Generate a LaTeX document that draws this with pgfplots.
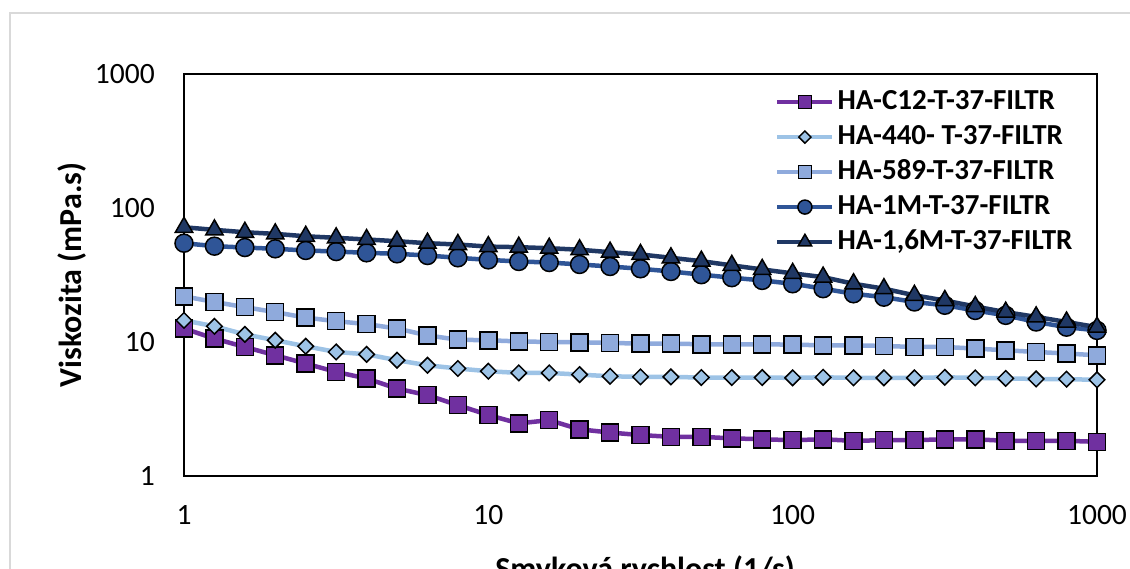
\documentclass[border=0pt]{standalone}
\usepackage{fontspec}
\setmainfont{Carlito}
\usepackage{pgfplots}
\pgfplotsset{compat=1.18}
\definecolor{cP}{HTML}{7030A0}
\definecolor{cL}{HTML}{9DC3E6}
\definecolor{cM}{HTML}{8FAADC}
\definecolor{cB}{HTML}{2F5597}
\definecolor{cN}{HTML}{203864}
\newcommand{\fs}{\fontsize{29.5}{35}\selectfont}
\newcommand{\fb}{\fontsize{32}{38}\selectfont\bfseries}
\newcommand{\fl}{\fontsize{29}{35}\selectfont\bfseries}
\pgfplotstableread{
x c12 h440 h589 m1 m16
1.000 12.6 14.5 21.9 54.6 71.8
1.259 10.6 13.1 19.9 51.9 68.7
1.585 9.18 11.4 18.2 50.7 65.9
1.995 7.96 10.3 16.7 49.6 64.1
2.512 6.90 9.29 15.2 48.2 61.5
3.162 5.98 8.43 14.3 47.3 59.9
3.981 5.34 8.09 13.6 46.3 58.2
5.012 4.49 7.31 12.6 45.5 56.5
6.310 4.01 6.70 11.2 44.2 54.6
7.943 3.38 6.34 10.4 42.5 53.4
10.00 2.85 6.05 10.3 41.0 51.5
12.59 2.47 5.88 10.1 39.9 51.0
15.85 2.61 5.88 10.0 39.2 50.1
19.95 2.23 5.71 9.95 37.9 48.8
25.12 2.11 5.55 9.84 36.6 46.8
31.62 2.02 5.49 9.73 35.2 45.0
39.81 1.96 5.49 9.73 33.6 42.5
50.12 1.96 5.43 9.62 31.8 40.1
63.10 1.91 5.43 9.62 30.2 37.3
79.43 1.88 5.43 9.62 28.8 34.8
100.0 1.85 5.40 9.55 27.2 32.5
125.9 1.88 5.45 9.45 25.0 30.5
158.5 1.83 5.40 9.45 22.9 27.2
199.5 1.85 5.40 9.34 21.6 25.0
251.2 1.85 5.40 9.18 19.9 22.3
316.2 1.88 5.45 9.18 18.8 20.4
398.1 1.88 5.40 8.93 17.2 18.4
501.2 1.83 5.35 8.67 15.8 16.7
631.0 1.83 5.30 8.43 14.1 15.4
794.3 1.83 5.28 8.20 12.9 14.1
1000 1.80 5.22 7.96 12.2 12.9
}\data
\begin{document}
\begin{tikzpicture}[x=1pt,y=1pt]
\useasboundingbox (0,0) rectangle (1130,569);
\draw[black!15, line width=1.5pt] (10,-20) rectangle (1150,556);
\begin{axis}[
  at={(184pt,93pt)}, anchor=south west,
  scale only axis, width=913pt, height=402pt,
  xmode=log, ymode=log,
  xmin=1, xmax=1000, ymin=1, ymax=1000,
  xtick={1,10,100,1000}, xticklabels={1,10,100,1000},
  ytick={1,10,100,1000}, yticklabels={1,10,100,1000},
  major tick length=0pt, minor tick length=0pt,
  axis line style={line width=1.5pt},
  tick label style={font=\fs, inner sep=0pt},
  xticklabel style={anchor=north, yshift=-29pt},
  yticklabel style={anchor=east, xshift=-29pt},
  xlabel={Smyková rychlost (1/s)},
  ylabel={Viskozita (mPa.s)},
  label style={font=\fb, inner sep=0pt},
  xlabel style={at={(axis description cs:0.505,-0.198)}, anchor=north},
  ylabel style={at={(axis description cs:-0.1227,0.5)}, anchor=center},
  clip=false,
  legend cell align=left,
  legend style={at={(axis description cs:0.6473,0.963)}, anchor=north west,
    draw=none, fill=none, font=\fl, inner sep=0pt, row sep=9pt,
    nodes={inner sep=0pt, text height=20pt, text depth=6pt},
    /tikz/every odd column/.append style={column sep=3pt}},
  legend image code/.code={\draw[mark repeat=2,mark phase=2,every mark/.append style={scale=0.78}] plot coordinates {(0pt,0pt) (27.5pt,0pt) (55pt,0pt)};},
  every axis plot/.append style={line width=4.5pt},
]
\addplot[cP, mark=square*, mark size=8.5pt, mark options={draw=black, line width=1.5pt, fill=cP}] table[x=x,y=c12] {\data};
\addlegendentry{HA-C12-T-37-FILTR}
\addplot[cL, mark=square*, mark size=5.5pt, mark options={draw=black, line width=1.5pt, fill=cL, rotate=45}] table[x=x,y=h440] {\data};
\addlegendentry{HA-440- T-37-FILTR}
\addplot[cM, mark=square*, mark size=8.5pt, mark options={draw=black, line width=1.5pt, fill=cM}] table[x=x,y=h589] {\data};
\addlegendentry{HA-589-T-37-FILTR}
\addplot[cB, mark=*, mark size=9pt, mark options={draw=black, line width=1.5pt, fill=cB}] table[x=x,y=m1] {\data};
\addlegendentry{HA-1M-T-37-FILTR}
\addplot[cN, mark=triangle*, mark size=10pt, mark options={draw=black, line width=1.5pt, fill=cN}] table[x=x,y=m16] {\data};
\addlegendentry{HA-1,6M-T-37-FILTR}
\end{axis}
\end{tikzpicture}
\end{document}
